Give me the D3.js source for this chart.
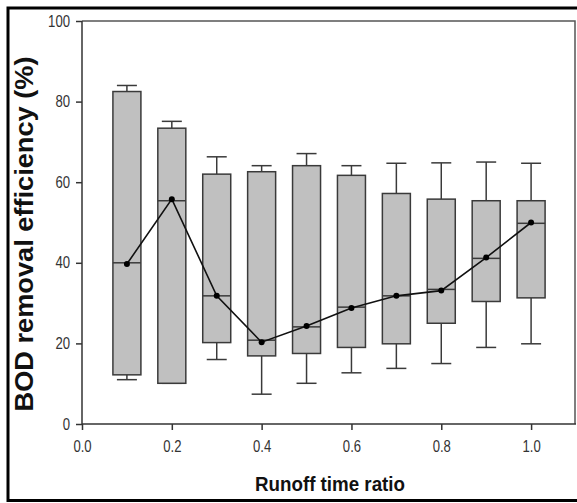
<!DOCTYPE html>
<html>
<head>
  <style type="text/css">
    body { margin: 0; background: #fff; }
    svg text { font-family: "Liberation Sans", Arial, sans-serif; }
    .tick text { fill: #333; font-size: 16px; }
    .title { font-weight: bold; fill: #111; }
  </style>
</head>
<body>
<div id="chart"></div>
<script src="https://cdnjs.cloudflare.com/ajax/libs/d3/7.8.5/d3.min.js"></script>
<script>
var ratios = [0.1, 0.2, 0.3, 0.4, 0.5, 0.6, 0.7, 0.8, 0.9, 1.0];
var whiskerLow = [11, 10.1, 16, 7.4, 10.1, 12.7, 13.8, 15, 19, 19.9];
var q1 = [12.2, 10.1, 20.2, 16.9, 17.5, 19, 19.9, 25, 30.4, 31.3];
var medians = [40, 55.4, 31.8, 20.8, 24.1, 29, 31.8, 33.4, 41.1, 49.8];
var q3 = [82.5, 73.4, 62, 62.6, 64.1, 61.7, 57.2, 55.8, 55.4, 55.4];
var whiskerHigh = [84, 75.1, 66.3, 64.1, 67.1, 64.1, 64.7, 64.8, 65, 64.7];
var means = [39.7, 55.8, 31.8, 20.3, 24.3, 28.8, 31.8, 33.1, 41.3, 50];
var xTicks = [0, 0.2, 0.4, 0.6, 0.8, 1.0];
var yTicks = [0, 20, 40, 60, 80, 100];

var cfg = { w: 577, h: 503, left: 82, right: 576, top: 21, bottom: 424, boxW: 28, capW: 20 };

var svg = d3.select('#chart').append('svg')
  .attr('width', cfg.w)
  .attr('height', cfg.h);

// outer frame
svg.append('path')
  .attr('d', 'M590,8 H8 V500.5 H590')
  .attr('fill', 'none')
  .attr('stroke', '#000')
  .attr('stroke-width', 3);

var x = d3.scaleLinear().domain([0, 1.1]).range([cfg.left, cfg.right]);
var y = d3.scaleLinear().domain([0, 100]).range([cfg.bottom, cfg.top]);

var data = ratios.map(function(r, i) {
  return { r: r, lo: whiskerLow[i], q1: q1[i], med: medians[i], q3: q3[i], hi: whiskerHigh[i], mean: means[i] };
});

// plot frame (top / right)
svg.append('path')
  .attr('d', 'M' + cfg.left + ',' + cfg.top + ' H' + (cfg.right - 1) + ' V' + cfg.bottom)
  .attr('fill', 'none')
  .attr('stroke', '#555')
  .attr('stroke-width', 1.5);

var boxes = svg.append('g').selectAll('g.box')
  .data(data)
  .enter()
  .append('g')
  .classed('box', true);

var stroke = '#3a3a3a';

// whiskers
boxes.append('line')
  .attr('x1', function(d) { return x(d.r) }).attr('x2', function(d) { return x(d.r) })
  .attr('y1', function(d) { return y(d.hi) }).attr('y2', function(d) { return y(d.q3) })
  .attr('stroke', stroke).attr('stroke-width', 1.5);
boxes.append('line')
  .attr('x1', function(d) { return x(d.r) }).attr('x2', function(d) { return x(d.r) })
  .attr('y1', function(d) { return y(d.q1) }).attr('y2', function(d) { return y(d.lo) })
  .attr('stroke', stroke).attr('stroke-width', 1.5);
boxes.append('line')
  .attr('x1', function(d) { return x(d.r) - cfg.capW / 2 }).attr('x2', function(d) { return x(d.r) + cfg.capW / 2 })
  .attr('y1', function(d) { return y(d.hi) }).attr('y2', function(d) { return y(d.hi) })
  .attr('stroke', stroke).attr('stroke-width', 1.5);
boxes.append('line')
  .attr('x1', function(d) { return x(d.r) - cfg.capW / 2 }).attr('x2', function(d) { return x(d.r) + cfg.capW / 2 })
  .attr('y1', function(d) { return y(d.lo) }).attr('y2', function(d) { return y(d.lo) })
  .attr('stroke', stroke).attr('stroke-width', 1.5);

boxes.append('rect')
  .attr('x', function(d) { return x(d.r) - cfg.boxW / 2 })
  .attr('y', function(d) { return y(d.q3) })
  .attr('width', cfg.boxW)
  .attr('height', function(d) { return y(d.q1) - y(d.q3) })
  .attr('fill', '#c0c0c0')
  .attr('stroke', stroke)
  .attr('stroke-width', 1.5);

boxes.append('line')
  .attr('x1', function(d) { return x(d.r) - cfg.boxW / 2 }).attr('x2', function(d) { return x(d.r) + cfg.boxW / 2 })
  .attr('y1', function(d) { return y(d.med) }).attr('y2', function(d) { return y(d.med) })
  .attr('stroke', stroke).attr('stroke-width', 1.5);

// mean line
svg.append('path')
  .datum(data)
  .attr('d', d3.line().x(function(d) { return x(d.r) }).y(function(d) { return y(d.mean) }))
  .attr('fill', 'none')
  .attr('stroke', '#111')
  .attr('stroke-width', 1.6);

svg.append('g').selectAll('circle')
  .data(data)
  .enter()
  .append('circle')
  .attr('cx', function(d) { return x(d.r) })
  .attr('cy', function(d) { return y(d.mean) })
  .attr('r', 3)
  .attr('fill', '#000');

// axes
var xAxis = d3.axisBottom(x).tickValues(xTicks).tickFormat(d3.format('.1f')).tickSizeOuter(0).tickSize(6).tickPadding(11);
var yAxis = d3.axisLeft(y).tickValues(yTicks).tickSizeOuter(0).tickSize(6).tickPadding(6);

var gx = svg.append('g')
  .attr('transform', 'translate(0,' + cfg.bottom + ')')
  .call(xAxis);
var gy = svg.append('g')
  .attr('transform', 'translate(' + cfg.left + ',0)')
  .call(yAxis);

[gx, gy].forEach(function(g) {
  g.select('.domain').attr('stroke', '#333').attr('stroke-width', 1.5);
  g.selectAll('.tick line').attr('stroke', '#333').attr('stroke-width', 1.5);
  // narrow look of the original labels
  g.selectAll('.tick text')
    .attr('textLength', function() {
      var s = this.textContent;
      return s.replace(/\./g, '').length * 7.3 + (s.indexOf('.') >= 0 ? 3.6 : 0);
    })
    .attr('lengthAdjust', 'spacingAndGlyphs');
});
gx.select('.domain').attr('d', 'M' + cfg.left + ',0 H' + cfg.right);
gy.select('.domain').attr('d', 'M0,' + cfg.top + ' V' + cfg.bottom);

svg.append('text')
  .classed('title', true)
  .attr('x', 330)
  .attr('y', 491)
  .attr('text-anchor', 'middle')
  .attr('font-size', 20)
  .attr('textLength', 150)
  .attr('lengthAdjust', 'spacingAndGlyphs')
  .text('Runoff time ratio');

svg.append('text')
  .classed('title', true)
  .attr('transform', 'translate(33,234) rotate(-90)')
  .attr('text-anchor', 'middle')
  .attr('font-size', 26)
  .attr('textLength', 355)
  .attr('lengthAdjust', 'spacingAndGlyphs')
  .text('BOD removal efficiency (%)');
</script>
</body>
</html>
